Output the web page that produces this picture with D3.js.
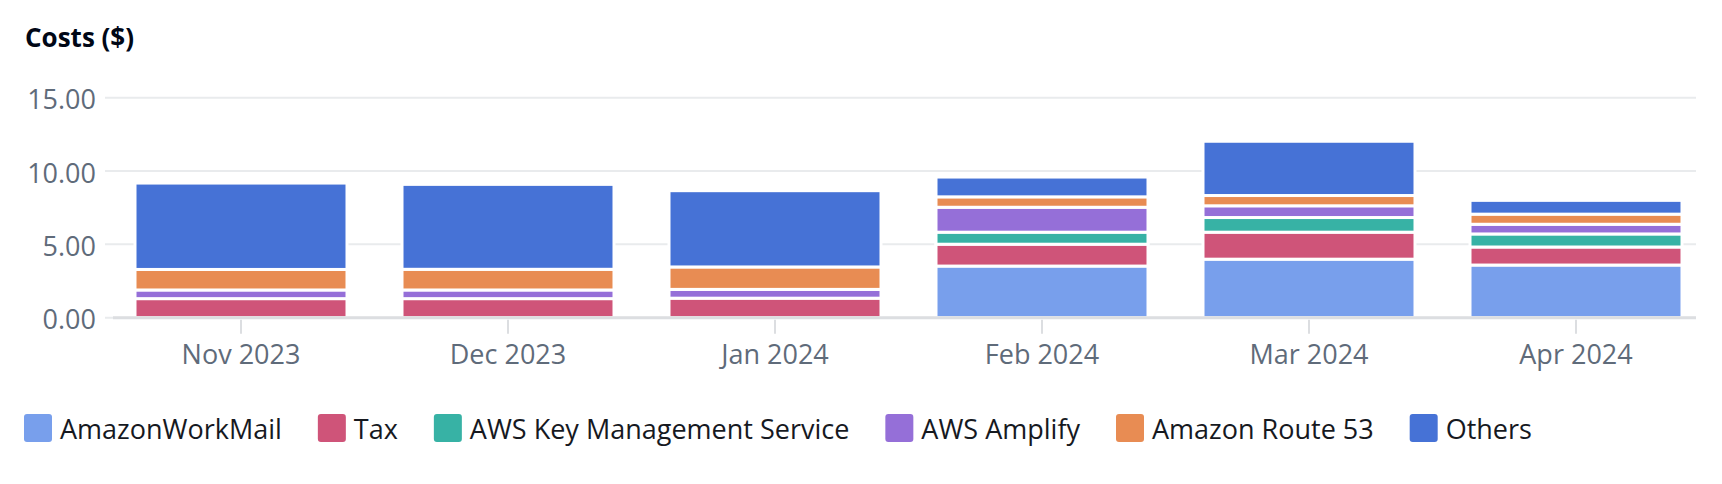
<!DOCTYPE html>
<html lang="en">
<head>
    <meta charset="UTF-8">
    <title>Costs ($)</title>
    <script src="https://d3js.org/d3.v7.min.js"></script>
    <style>
        body {
            margin: 0;
            background: #ffffff;
            font-family: "Open Sans", "Noto Sans", sans-serif;
        }
        .title {
            font-size: 26px;
            font-weight: 700;
            fill: #000716;
        }
        .tick-label {
            font-size: 27px;
            fill: #5f6b7a;
        }
        .legend text {
            font-size: 27px;
            fill: #16191f;
        }
    </style>
</head>
<body>
    <script>
        // data
        const months = ["Nov 2023", "Dec 2023", "Jan 2024", "Feb 2024", "Mar 2024", "Apr 2024"];
        const services = ["AmazonWorkMail", "Tax", "AWS Key Management Service", "AWS Amplify", "Amazon Route 53", "Others"];

        const amazonWorkMail = [0, 0, 0, 3.52, 3.99, 3.59];
        const tax = [1.30, 1.30, 1.33, 1.49, 1.84, 1.23];
        const awsKms = [0, 0, 0, 0.82, 1.00, 0.89];
        const awsAmplify = [0.59, 0.59, 0.60, 1.70, 0.80, 0.66];
        const route53 = [1.40, 1.41, 1.53, 0.71, 0.70, 0.69];
        const others = [5.89, 5.79, 5.20, 1.35, 3.70, 0.94];

        const yTicks = [0, 5, 10, 15];

        const colors = ["#789fec", "#cf5479", "#37b2a5", "#956fd8", "#e88c53", "#4672d6"];

        const width = 1722, height = 484;

        const svg = d3.select("body").append("svg")
            .attr("width", width)
            .attr("height", height);

        // rows for the stack
        const seriesValues = [amazonWorkMail, tax, awsKms, awsAmplify, route53, others];
        const rows = months.map((m, i) => {
            const row = { month: m };
            services.forEach((s, j) => { row[s] = seriesValues[j][i]; });
            return row;
        });

        const stacked = d3.stack().keys(services)(rows);

        const x = d3.scaleBand()
            .domain(months)
            .range([107.5, 1709.5])
            .paddingInner(0.206)
            .paddingOuter(0.103);

        const y = d3.scaleLinear()
            .domain([0, 15])
            .range([317.7, 97.7]);

        const color = d3.scaleOrdinal().domain(services).range(colors);

        const plotLeft = 105, plotRight = 1696;

        svg.append("text")
            .attr("class", "title")
            .attr("x", 25)
            .attr("y", 47)
            .text("Costs ($)");

        // gridlines + y labels
        const grid = svg.append("g");
        grid.selectAll("line")
            .data(yTicks)
            .enter().append("line")
            .attr("x1", plotLeft)
            .attr("x2", plotRight)
            .attr("y1", d => y(d))
            .attr("y2", d => y(d))
            .attr("stroke", "#e9ebed")
            .attr("stroke-width", 2);

        grid.selectAll("text")
            .data(yTicks)
            .enter().append("text")
            .attr("class", "tick-label")
            .attr("x", 96)
            .attr("y", d => y(d) + 11.5)
            .attr("text-anchor", "end")
            .text(d => d3.format(".2f")(d));

        // stacked bars, white stroke gives the gaps between segments
        svg.append("g")
            .selectAll("g")
            .data(stacked)
            .enter().append("g")
            .attr("fill", d => color(d.key))
            .selectAll("rect")
            .data(d => d.filter(p => p[1] - p[0] > 0))
            .enter().append("rect")
            .attr("x", d => x(d.data.month))
            .attr("width", x.bandwidth())
            .attr("y", d => y(d[1]))
            .attr("height", d => y(d[0]) - y(d[1]))
            .attr("stroke", "#ffffff")
            .attr("stroke-width", 3);

        // x axis baseline and ticks
        svg.append("line")
            .attr("x1", 113)
            .attr("x2", plotRight)
            .attr("y1", y(0))
            .attr("y2", y(0))
            .attr("stroke", "#dcdee1")
            .attr("stroke-width", 3);

        const xAxis = svg.append("g");
        xAxis.selectAll("line")
            .data(months)
            .enter().append("line")
            .attr("x1", d => x(d) + x.bandwidth() / 2)
            .attr("x2", d => x(d) + x.bandwidth() / 2)
            .attr("y1", y(0) + 2)
            .attr("y2", y(0) + 16)
            .attr("stroke", "#dcdee1")
            .attr("stroke-width", 2);

        xAxis.selectAll("text")
            .data(months)
            .enter().append("text")
            .attr("class", "tick-label")
            .attr("x", d => x(d) + x.bandwidth() / 2)
            .attr("y", 364)
            .attr("text-anchor", "middle")
            .text(d => d);

        // legend
        const legend = svg.append("g").attr("class", "legend");
        let lx = 24;
        services.forEach(s => {
            const item = legend.append("g").attr("transform", `translate(${lx},0)`);
            item.append("rect")
                .attr("x", 0)
                .attr("y", 414)
                .attr("width", 28)
                .attr("height", 28)
                .attr("rx", 3)
                .attr("fill", color(s));
            const t = item.append("text")
                .attr("x", 36)
                .attr("y", 439)
                .text(s);
            lx += 36 + t.node().getComputedTextLength() + 36;
        });
    </script>
</body>
</html>
